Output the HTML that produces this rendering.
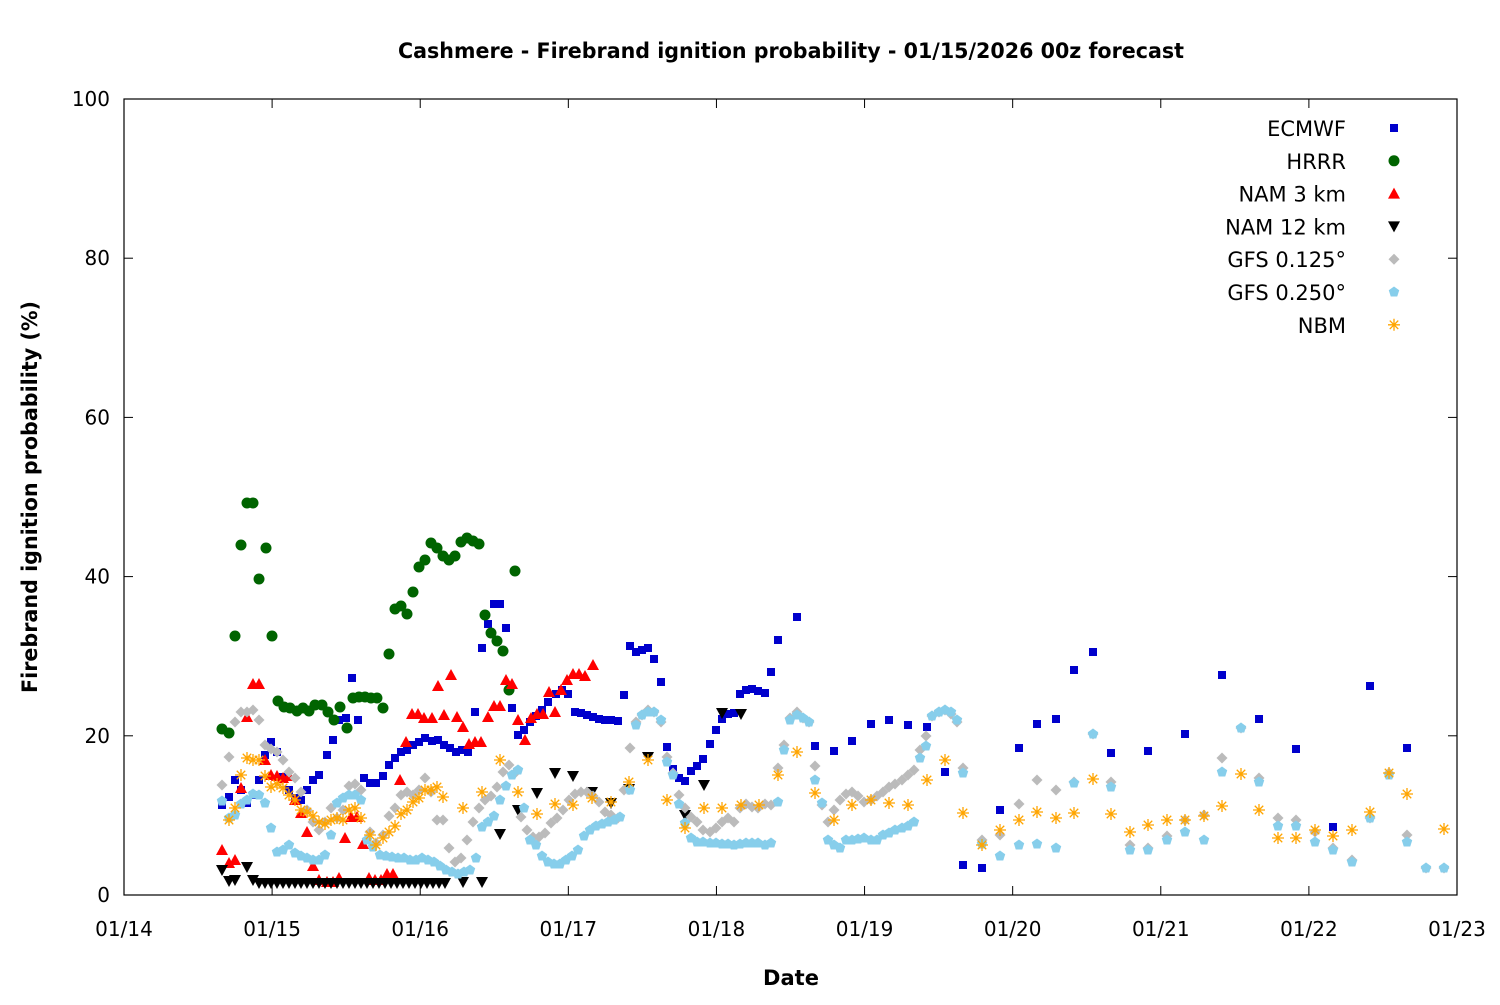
<!DOCTYPE html>
<html><head><meta charset="utf-8"><style>
body{margin:0;background:#fff}
svg text{font-family:"DejaVu Sans","Liberation Sans",sans-serif;fill:#000}
</style></head><body>
<svg id="s" width="1500" height="1000" xmlns="http://www.w3.org/2000/svg">
<rect width="1500" height="1000" fill="#fff"/>
<text x="791" y="58" text-anchor="middle" font-size="21" font-weight="bold" textLength="786" lengthAdjust="spacingAndGlyphs">Cashmere - Firebrand ignition probability - 01/15/2026 00z forecast</text>
<text x="791" y="985" text-anchor="middle" font-size="21" font-weight="bold">Date</text>
<text transform="translate(37,497) rotate(-90)" text-anchor="middle" font-size="21" font-weight="bold" textLength="392" lengthAdjust="spacingAndGlyphs">Firebrand ignition probability (%)</text>
<g id="axes"></g>
<g id="pts"></g>
<g id="leg"></g>
</svg>
<script>
var NS="http://www.w3.org/2000/svg",s=document.getElementById('s');
function el(t,a,p,txt){var e=document.createElementNS(NS,t);for(var k in a)e.setAttribute(k,a[k]);if(txt!=null)e.textContent=txt;(p||s).appendChild(e);return e;}
var ax=document.getElementById('axes');
var L=124,R=1457,T=99,B=895;
el('rect',{x:L,y:T,width:R-L,height:B-T,fill:'none',stroke:'#000','stroke-width':1.2},ax);
for(var i=0;i<=5;i++){var y=B-i*(B-T)/5;
 el('line',{x1:L,x2:L+9,y1:y,y2:y,stroke:'#000'},ax);el('line',{x1:R-9,x2:R,y1:y,y2:y,stroke:'#000'},ax);
 el('text',{x:110,y:y+7,'text-anchor':'end','font-size':20},ax,String(i*20));}
var days=['01/14','01/15','01/16','01/17','01/18','01/19','01/20','01/21','01/22','01/23'];
for(var i=0;i<=9;i++){var x=L+i*(R-L)/9;
 el('line',{x1:x,x2:x,y1:B-9,y2:B,stroke:'#000'},ax);el('line',{x1:x,x2:x,y1:T,y2:T+9,stroke:'#000'},ax);
 el('text',{x:x,y:936,'text-anchor':'middle','font-size':20},ax,days[i]);}
var g=document.getElementById('pts');
function mk(type,x,y,par){
 par=par||g;
 if(type==0) el('rect',{x:x-4,y:y-4,width:8,height:8,fill:'#0000cc'},par);
 else if(type==1) el('circle',{cx:x,cy:y,r:5.5,fill:'#006400'},par);
 else if(type==2) el('polygon',{points:(x-6)+','+(y+5)+' '+(x+6)+','+(y+5)+' '+x+','+(y-6),fill:'#ff0000'},par);
 else if(type==3) el('polygon',{points:(x-6)+','+(y-5)+' '+(x+6)+','+(y-5)+' '+x+','+(y+6),fill:'#000'},par);
 else if(type==4) el('polygon',{points:x+','+(y-5.5)+' '+(x+5.5)+','+y+' '+x+','+(y+5.5)+' '+(x-5.5)+','+y,fill:'#bbbbbb'},par);
 else if(type==5){var p=[];for(var k=0;k<5;k++){var a=-Math.PI/2+k*2*Math.PI/5;p.push((x+5.5*Math.cos(a))+','+(y+5.5*Math.sin(a)));}el('polygon',{points:p.join(' '),fill:'#87ceeb'},par);}
 else { var d='';for(var k=0;k<4;k++){var a=k*Math.PI/4;d+='M'+(x-6*Math.cos(a))+' '+(y-6*Math.sin(a))+'L'+(x+6*Math.cos(a))+' '+(y+6*Math.sin(a));}el('path',{d:d,stroke:'#ffa500','stroke-width':1.3,fill:'none'},par);}
}
function P(str){var a=str.trim().split(/\s+/).map(Number),r=[];for(var i=0;i<a.length;i+=2)r.push([a[i],a[i+1]]);return r;}
var nam12=P("222 870 229 881 235 880 247 867 253 880 463 882 482 882 500 834 518 810 537 793 555 773 573 776 592 792 611 803 629 789 648 757 685 815 704 785 722 713 741 714");
for(var x=259;x<=447;x+=6)nam12.push([x,883]);
var data=[
P("222 805 229 797 235 780 241 790 247 803 253 795 259 780 265 755 271 742 277 752 283 777 289 790 295 798 301 800 307 790 313 780 319 775 327 755 333 740 339 720 346 718 352 678 358 720 364 778 370 783 376 783 383 776 389 765 395 758 401 752 407 750 413 745 419 742 425 738 432 741 438 740 444 745 450 748 456 752 462 750 468 752 475 712 482 648 488 624 494 604 500 604 506 628 512 708 518 735 524 730 530 722 536 716 542 710 548 702 556 694 562 690 568 694 575 712 581 713 587 715 593 717 599 719 605 720 611 720 618 721 624 695 630 646 636 652 642 650 648 648 654 659 661 682 667 747 673 769 679 778 685 781 691 771 697 766 703 759 710 744 716 730 722 719 728 714 734 713 740 694 746 690 752 689 758 691 765 693 771 672 778 640 797 617 815 746 834 751 852 741 871 724 889 720 908 725 927 727 945 772 963 865 982 868 1000 810 1019 748 1037 724 1056 719 1074 670 1093 652 1111 753 1148 751 1185 734 1222 675 1259 719 1296 749 1333 827 1370 686 1407 748"),
P("222 729 229 733 235 636 241 545 247 503 253 503 259 579 266 548 272 636 278 701 284 707 290 708 297 711 303 708 309 711 315 705 322 705 328 712 334 720 340 707 347 728 353 698 359 697 365 697 371 698 377 698 383 708 389 654 395 609 401 606 407 614 413 592 419 567 425 560 431 543 437 548 443 556 449 560 455 556 461 542 467 538 473 541 479 544 485 615 491 633 497 641 503 651 509 690 515 571"),
P("222 850 229 863 235 860 241 788 247 717 253 684 259 684 265 760 271 775 277 776 283 778 289 776 295 800 301 813 307 832 313 866 319 880 327 882 333 882 339 878 345 838 351 817 357 817 363 844 369 878 375 880 381 880 387 874 393 874 400 780 406 742 412 714 418 714 424 718 432 718 438 686 444 715 451 675 457 717 463 727 469 744 475 742 481 742 488 717 494 706 500 706 506 680 512 684 518 720 525 740 531 718 537 714 543 714 549 692 555 712 561 690 567 680 573 674 579 674 585 676 593 665"),
nam12,
P("222 785 229 757 235 722 241 712 247 712 253 710 259 720 265 745 271 749 277 752 283 760 289 772 295 778 301 792 307 810 313 822 319 830 325 822 331 808 337 818 343 810 349 786 355 784 361 790 370 832 376 843 383 835 389 816 395 808 401 795 407 792 413 795 419 790 425 778 431 792 437 820 443 820 449 848 455 862 461 858 467 840 473 822 479 808 485 800 491 796 497 787 503 772 509 765 515 773 521 817 527 830 533 837 539 837 545 833 551 823 557 818 563 810 569 800 575 794 581 792 587 792 593 796 599 802 605 812 611 815 618 818 624 790 630 748 636 722 642 715 648 710 654 712 661 722 667 757 673 773 679 795 685 808 691 817 697 822 703 830 710 832 716 828 722 822 728 818 734 822 740 808 746 804 752 807 758 808 765 804 771 805 778 768 784 745 790 718 797 712 803 718 809 722 815 766 822 805 828 822 834 810 840 800 846 794 852 792 858 796 864 802 871 800 877 796 883 792 889 787 895 784 902 780 908 775 914 770 920 750 926 736 932 716 939 712 945 710 951 714 957 722 963 768 982 840 1000 835 1019 804 1037 780 1056 790 1074 782 1093 734 1111 782 1130 845 1148 848 1167 836 1185 820 1204 815 1222 758 1241 728 1259 778 1278 818 1296 820 1315 832 1333 848 1352 860 1370 818 1389 773 1407 835 1426 868 1444 868"),
P("222 801 229 818 235 815 241 804 247 800 253 794 259 795 265 803 271 828 277 852 283 850 289 845 295 853 301 856 307 858 313 860 319 860 325 855 331 835 337 803 343 798 349 795 355 795 361 800 367 840 373 847 380 855 386 856 392 857 398 858 404 858 410 860 416 860 422 858 428 860 434 862 440 866 446 870 452 872 458 874 464 872 470 870 476 858 482 827 488 822 494 816 500 800 506 786 512 775 518 770 524 808 530 840 536 845 542 856 548 862 554 864 560 864 566 860 572 856 578 850 584 836 590 830 596 826 602 824 608 822 614 820 620 817 630 790 636 725 642 715 648 712 654 712 661 720 667 762 673 775 679 804 685 823 691 838 697 842 703 842 710 843 716 843 722 844 728 844 734 845 740 844 746 843 752 843 758 843 765 845 771 843 778 802 784 750 790 720 797 715 803 718 809 722 815 780 822 803 828 840 834 845 840 848 846 840 852 840 858 839 864 838 871 840 877 840 883 835 889 833 895 830 902 828 908 826 914 822 920 758 926 746 932 716 939 712 945 710 951 712 957 720 963 773 982 844 1000 856 1019 845 1037 844 1056 848 1074 783 1093 734 1111 787 1130 850 1148 850 1167 840 1185 832 1204 840 1222 772 1241 728 1259 782 1278 826 1296 826 1315 842 1333 850 1352 862 1370 818 1389 775 1407 842 1426 868 1444 868"),
P("229 820 235 808 241 775 247 758 253 760 259 760 265 776 271 787 277 784 283 788 289 795 295 800 301 810 307 812 313 816 319 822 325 824 331 820 337 818 343 820 349 810 355 808 361 818 370 835 376 845 383 838 389 832 395 826 401 814 407 810 413 802 419 798 425 790 431 790 437 787 443 797 463 808 482 792 500 760 518 792 537 814 555 804 573 805 592 798 611 802 629 782 648 760 667 800 685 828 704 808 722 808 741 805 759 805 778 775 797 752 815 793 834 820 852 805 871 800 889 803 908 805 927 780 945 760 963 813 982 845 1000 830 1019 820 1037 812 1056 818 1074 813 1093 779 1111 814 1130 832 1148 825 1167 820 1185 820 1204 816 1222 806 1241 774 1259 810 1278 838 1296 838 1315 830 1333 836 1352 830 1370 812 1389 773 1407 794 1444 829")
];
for(var t=0;t<7;t++)data[t].forEach(function(p){mk(t,p[0],p[1]);});
var lg=document.getElementById('leg');
var names=['ECMWF','HRRR','NAM 3 km','NAM 12 km','GFS 0.125°','GFS 0.250°','NBM'];
for(var i=0;i<7;i++){var y=128+i*32.8;
 el('text',{x:1346,y:y+8,'text-anchor':'end','font-size':21},lg,names[i]);
 mk(i,1394,y,lg);}
</script>
</body></html>
